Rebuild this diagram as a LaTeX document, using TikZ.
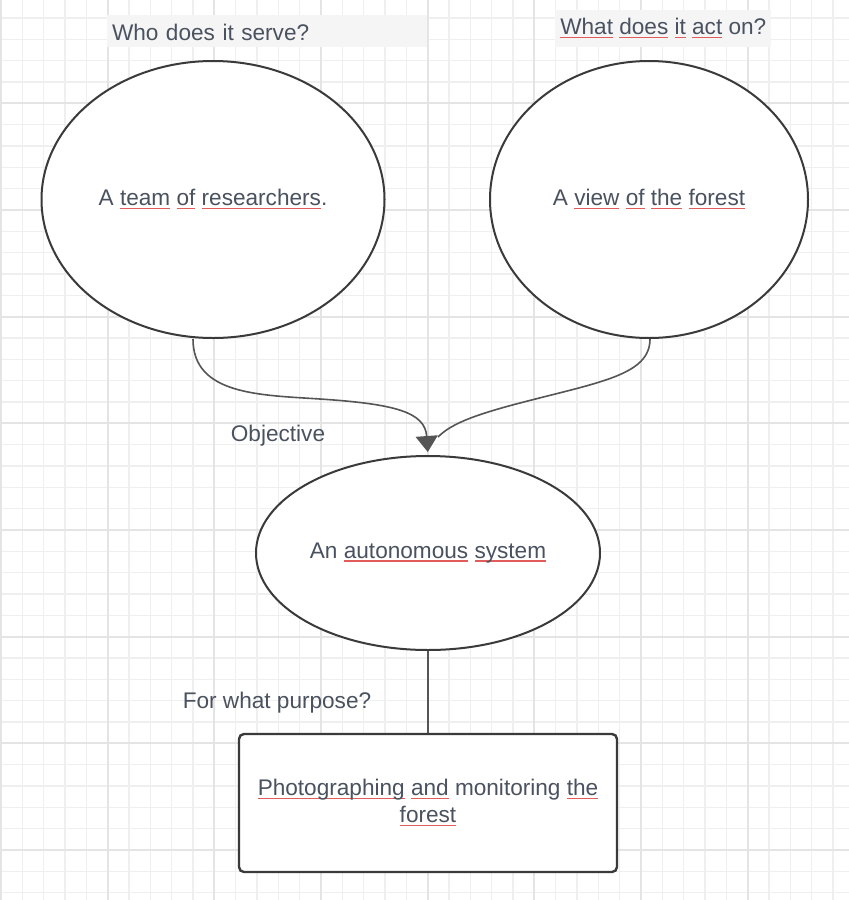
\documentclass[tikz,border=0pt]{standalone}
\usepackage{fontspec}
\setmainfont{Liberation Sans}
\usetikzlibrary{arrows.meta,shapes.geometric}
\definecolor{textc}{RGB}{74,82,96}
\definecolor{sqred}{RGB}{226,92,92}
\definecolor{gridminor}{RGB}{239,239,239}
\definecolor{gridmajor}{RGB}{228,228,228}
\definecolor{lblbg}{RGB}{245,245,245}
\definecolor{edgec}{RGB}{58,58,58}
\definecolor{linkc}{RGB}{85,85,85}
\newsavebox\sqbox
\newcommand\sq[1]{\sbox\sqbox{#1}\rlap{\color{sqred}\rule[-1.7pt]{\wd\sqbox}{0.7pt}}\usebox\sqbox}
\begin{document}
\begin{tikzpicture}[x=0.5pt,y=-0.5pt,
  every node/.style={font=\fontsize{11.3}{13.5}\selectfont, text=textc},
  oval/.style={ellipse, draw=edgec, line width=1pt, fill=white, inner sep=0pt},
  boxnode/.style={rectangle, rounded corners=2.5pt, draw=edgec, line width=1.2pt, fill=white, inner sep=0pt, align=center},
  qlabel/.style={fill=lblbg, inner xsep=2.5pt},
  minorline/.style={draw=gridminor, line width=0.75pt},
  majorline/.style={draw=gridmajor, line width=0.9pt},
  link/.style={draw=linkc, line width=0.8pt},
  arrowed/.style={-{Triangle[length=8pt,width=11pt]}}
]
\fill[white] (0,0) rectangle (849,900);
\useasboundingbox (0,0) rectangle (849,900);
% grid
\foreach \k in {0,...,39} \draw[minorline] ({1+21.3333*\k},0) -- ({1+21.3333*\k},900);
\foreach \k in {0,...,41} \draw[minorline] (0,{18+21.3333*\k}) -- (849,{18+21.3333*\k});
\foreach \k in {0,5,...,35} \draw[majorline] ({1+21.3333*\k},0) -- ({1+21.3333*\k},900);
\foreach \k in {4,9,...,39} \draw[majorline] (0,{18+21.3333*\k}) -- (849,{18+21.3333*\k});

% labels
\node[qlabel, text width=155pt, align=left, minimum height=15.8pt, text height=9pt, text depth=0pt] (qa) at (267,31) {Who does it serve?};
\node[qlabel, minimum height=18.3pt] (qb) at (663.3,28.3) {\sq{What} \sq{does} \sq{it} \sq{act} on?};

% shapes
\node[oval, minimum width=171.5pt, minimum height=138.5pt] (L) at (213,199.5) {A \sq{team} \sq{of} \sq{researchers}.};
\node[oval, minimum width=159pt, minimum height=138.5pt] (R) at (649,199.5) {A \sq{view} \sq{of} \sq{the} \sq{forest}};
\node[oval, minimum width=172pt, minimum height=97pt] (M) at (428,553) {An \sq{autonomous} \sq{system}};
\node[boxnode, minimum width=189pt, minimum height=69pt] (B) at (428,803) {\sq{Photographing} \sq{and} monitoring \sq{the}\\\sq{forest}};

\node (obj) at (278,436) {Objective};
\node (purp) at (277,703) {For what purpose?};

% connectors
\coordinate (ls) at ([xshift=-10pt]L.south);
\coordinate (rs) at ([xshift=0.5pt]R.south);
\coordinate (rj) at ([xshift=5pt,yshift=9pt]M.north);
\draw[link] (rs) .. controls (650,375) and (600,382) .. (520,403) .. controls (470,416) and (450,425) .. (rj);
\draw[link, arrowed, shorten >=1.5pt] (ls) .. controls (193,395) and (260,395) .. (320,399) .. controls (395,404) and (425,412) .. (M.north);
\draw[link, line width=1pt] (M.south) -- (B.north);
\end{tikzpicture}
\end{document}
